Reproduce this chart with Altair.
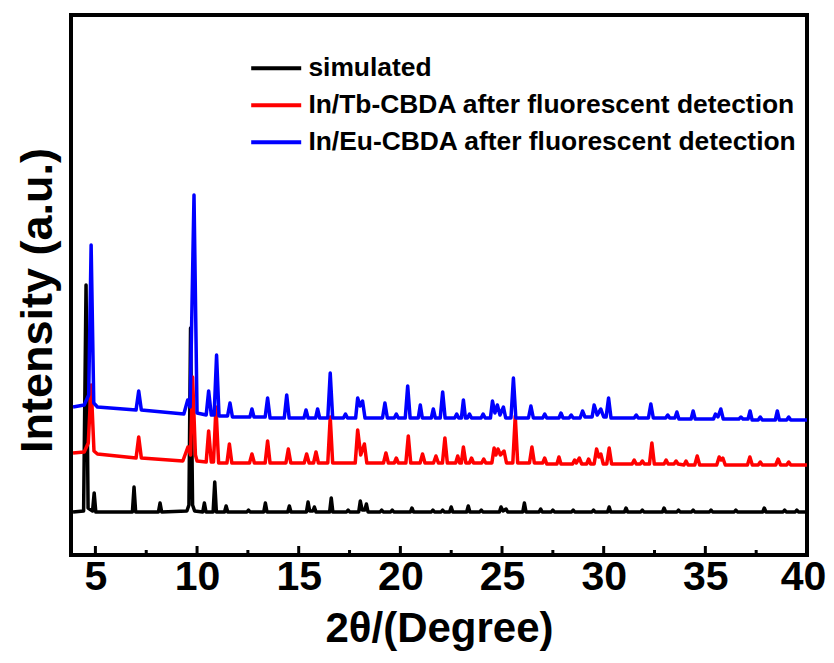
import altair as alt
import pandas as pd

# ---------------- data ----------------
SERIES = ["simulated",
          "In/Tb-CBDA after fluorescent detection",
          "In/Eu-CBDA after fluorescent detection"]
COLORS = ["#000000", "#ff0000", "#0000ff"]

# 2theta (deg), intensity (a.u., offset already included)
sim_pts = [
    (3.9, 43), (4.42, 44), (4.54, 270), (4.64, 47), (4.86, 44), (4.94, 62), (5.02, 43),
    (6.82, 43), (6.9, 68), (6.98, 43), (8.1, 43), (8.18, 52), (8.26, 43),
    (9.5, 44), (9.6, 50), (9.68, 227), (9.78, 50), (9.88, 44),
    (10.28, 43), (10.36, 52), (10.44, 43), (10.79, 43), (10.87, 73), (10.95, 43),
    (11.35, 43), (11.43, 49), (11.51, 43), (12.45, 43), (12.53, 45), (12.61, 43),
    (13.28, 43), (13.36, 52), (13.44, 43), (14.46, 43), (14.54, 49), (14.62, 43),
    (15.38, 43), (15.46, 53), (15.54, 44), (15.7, 44), (15.77, 48), (15.85, 43),
    (16.52, 43), (16.6, 57), (16.68, 43), (17.35, 43), (17.43, 45), (17.51, 43),
    (17.95, 43), (18.03, 54), (18.12, 45), (18.25, 45), (18.33, 51), (18.41, 43),
    (19.0, 43), (19.08, 45), (19.16, 43), (19.52, 43), (19.6, 45), (19.68, 43),
    (20.49, 43), (20.57, 47), (20.65, 43), (21.52, 43), (21.6, 45), (21.68, 43),
    (22.0, 43), (22.08, 45), (22.16, 43), (22.42, 43), (22.5, 48), (22.58, 43),
    (23.26, 43), (23.34, 49), (23.42, 43), (23.9, 43), (23.98, 45), (24.06, 43),
    (24.87, 43), (24.95, 48), (25.05, 44), (25.2, 46), (25.28, 43),
    (26.02, 43), (26.1, 52), (26.18, 43), (26.82, 43), (26.9, 46), (26.98, 43),
    (27.42, 43), (27.5, 45), (27.58, 43), (28.42, 43), (28.5, 45), (28.58, 43),
    (29.42, 43), (29.5, 45), (29.58, 43), (30.19, 43), (30.27, 48), (30.35, 43),
    (31.02, 43), (31.1, 47), (31.18, 43), (31.82, 43), (31.9, 45), (31.98, 43),
    (32.89, 43), (32.97, 47), (33.05, 43), (33.6, 43), (33.68, 45), (33.76, 43),
    (34.32, 43), (34.4, 45), (34.48, 43), (35.2, 43), (35.28, 45), (35.36, 43),
    (36.42, 43), (36.5, 45), (36.58, 43), (37.82, 43), (37.9, 47), (37.98, 43),
    (38.82, 43), (38.9, 45), (38.98, 43), (39.42, 43), (39.5, 45), (39.58, 43),
    (40.0, 43),
]

tb_pts = [
    (3.9, 102), (4.45, 103), (4.65, 112), (4.79, 170), (4.93, 104), (5.1, 101),
    (7.0, 97), (7.13, 118), (7.26, 97), (9.3, 94), (9.55, 108), (9.68, 100),
    (9.78, 178), (9.92, 100), (10.0, 94), (10.45, 93), (10.57, 124), (10.7, 93),
    (10.81, 93), (10.93, 148), (11.06, 92), (11.47, 92), (11.59, 111), (11.71, 92),
    (12.58, 92), (12.7, 101), (12.82, 92), (13.35, 92), (13.47, 114), (13.59, 92),
    (14.37, 92), (14.49, 106), (14.61, 92), (15.27, 92), (15.39, 101), (15.51, 92),
    (15.73, 92), (15.85, 103), (15.97, 92), (16.43, 92), (16.55, 138), (16.67, 92),
    (17.66, 92), (17.78, 92), (17.9, 125), (18.05, 100), (18.23, 111), (18.35, 92),
    (19.17, 92), (19.29, 102), (19.41, 92), (19.7, 92), (19.8, 97), (19.9, 92),
    (20.27, 92), (20.39, 119), (20.51, 92), (20.97, 92), (21.09, 101), (21.21, 92),
    (21.63, 92), (21.75, 99), (21.87, 92), (22.07, 92), (22.19, 117), (22.31, 92),
    (22.72, 92), (22.82, 99), (22.92, 92), (23.0, 92), (23.1, 108), (23.22, 92),
    (23.4, 92), (23.5, 97), (23.6, 92), (24.0, 92), (24.1, 96), (24.2, 92),
    (24.5, 92), (24.61, 107), (24.7, 100), (24.8, 106), (24.92, 100), (25.1, 104),
    (25.22, 92), (25.53, 92), (25.65, 139), (25.77, 92), (26.35, 92), (26.47, 108),
    (26.59, 92), (27.0, 92), (27.1, 97), (27.2, 91), (27.7, 91), (27.8, 98),
    (27.9, 91), (28.47, 91), (28.57, 95), (28.66, 92), (28.8, 97), (28.92, 91),
    (29.16, 91), (29.26, 96), (29.36, 91), (29.53, 91), (29.65, 106), (29.76, 98),
    (29.86, 101), (29.98, 91), (30.15, 91), (30.27, 107), (30.39, 91),
    (31.4, 91), (31.5, 95), (31.6, 91), (31.8, 91), (31.9, 94), (32.0, 91),
    (32.25, 91), (32.37, 112), (32.49, 91), (32.97, 91), (33.07, 95), (33.17, 91),
    (33.46, 91), (33.56, 94), (33.66, 91), (33.95, 90), (34.05, 94), (34.15, 90),
    (34.48, 90), (34.6, 99), (34.72, 90), (35.56, 90), (35.68, 98), (35.78, 95),
    (35.86, 97), (35.98, 90), (37.07, 90), (37.19, 98), (37.31, 90),
    (37.6, 90), (37.7, 93), (37.8, 90), (38.46, 90), (38.58, 96), (38.7, 90),
    (39.0, 90), (39.1, 93), (39.2, 90), (40.0, 90),
]

eu_pts = [
    (3.9, 148), (4.45, 150), (4.67, 160), (4.79, 310), (4.92, 152), (5.1, 148),
    (7.0, 145), (7.13, 164), (7.26, 145), (9.35, 141), (9.54, 155), (9.66, 148),
    (9.85, 360), (10.0, 142), (10.45, 140), (10.57, 164), (10.7, 140), (10.84, 140),
    (10.96, 200), (11.08, 139), (11.5, 139), (11.62, 152), (11.74, 138),
    (12.6, 138), (12.7, 146), (12.8, 138), (13.35, 138), (13.47, 157), (13.59, 137),
    (14.29, 137), (14.41, 160), (14.53, 137), (15.26, 137), (15.36, 145), (15.46, 137),
    (15.83, 137), (15.93, 146), (16.03, 137), (16.43, 137), (16.55, 182), (16.67, 137),
    (17.2, 137), (17.3, 141), (17.4, 137), (17.8, 137), (17.9, 157), (18.02, 149),
    (18.14, 154), (18.26, 137), (19.12, 137), (19.24, 152), (19.36, 137),
    (19.7, 137), (19.8, 141), (19.9, 137), (20.24, 137), (20.36, 169), (20.48, 137),
    (20.88, 137), (20.98, 150), (21.08, 137), (21.52, 137), (21.62, 146), (21.72, 137),
    (21.96, 137), (22.08, 163), (22.2, 137), (22.67, 137), (22.77, 141), (22.87, 137),
    (23.0, 137), (23.1, 155), (23.2, 137), (23.3, 137), (23.4, 141), (23.5, 137),
    (23.97, 137), (24.07, 141), (24.17, 137), (24.43, 137), (24.53, 154), (24.65, 142),
    (24.77, 150), (24.9, 140), (25.07, 148), (25.18, 137), (25.44, 137), (25.56, 177),
    (25.68, 137), (26.3, 137), (26.42, 149), (26.54, 137), (27.0, 137), (27.1, 141),
    (27.2, 137), (27.8, 137), (27.9, 142), (28.0, 137), (28.3, 137), (28.4, 140),
    (28.5, 137), (28.84, 137), (28.96, 144), (29.08, 138), (29.43, 138), (29.53, 150),
    (29.68, 140), (29.86, 146), (30.0, 138), (30.12, 138), (30.24, 157), (30.36, 137),
    (31.5, 137), (31.6, 140), (31.7, 137), (32.2, 137), (32.32, 151), (32.44, 137),
    (33.05, 137), (33.15, 140), (33.25, 137), (33.5, 137), (33.6, 143), (33.7, 136),
    (34.3, 136), (34.4, 144), (34.5, 136), (35.4, 136), (35.5, 141), (35.62, 138),
    (35.76, 146), (35.88, 136), (36.65, 136), (36.75, 138), (36.85, 136),
    (37.1, 136), (37.2, 144), (37.3, 135), (37.6, 135), (37.7, 138), (37.8, 135),
    (38.44, 135), (38.54, 144), (38.64, 135), (39.0, 135), (39.1, 138), (39.2, 135),
    (40.0, 135),
]

major_ticks = [5, 10, 15, 20, 25, 30, 35, 40]
minor_ticks = [7.5, 12.5, 17.5, 22.5, 27.5, 32.5, 37.5]

X_DOMAIN = [3.8, 40]
Y_DOMAIN = [0, 540]

# ---------------- chart ----------------
FONT = "Liberation Sans, Arial, Helvetica, sans-serif"

W, H = 736, 540

def frame(pts, name):
    return pd.DataFrame({"x": [p[0] for p in pts],
                         "y": [p[1] for p in pts],
                         "series": name})

xscale = alt.Scale(domain=X_DOMAIN, nice=False, zero=False)
yscale = alt.Scale(domain=Y_DOMAIN, nice=False, zero=False)

X = alt.X("x:Q", scale=xscale,
          axis=alt.Axis(title="2θ/(Degree)", values=major_ticks, format="d",
                        domain=False, ticks=False, tickSize=0, grid=False,
                        labelFont=FONT, labelFontSize=41, labelFontWeight="bold",
                        labelColor="black", labelBaseline="alphabetic",
                        labelPadding=34, labelFlush=False, labelOverlap=False,
                        labelOffset=alt.condition("datum.value == 40",
                                                  alt.value(-4), alt.value(0)),
                        titleFont=FONT, titleFontSize=42, titleFontWeight="bold",
                        titleColor="black", titleBaseline="alphabetic",
                        titleX=W / 2, titleY=86, titleAlign="center"))
Y = alt.Y("y:Q", scale=yscale,
          axis=alt.Axis(title="Intensity (a.u.)", labels=False, ticks=False,
                        domain=False, grid=False,
                        titleFont=FONT, titleFontSize=45, titleFontWeight="bold",
                        titleColor="black", titleBaseline="alphabetic",
                        titleAngle=270, titleX=-20, titleY=285, titleAlign="center"))

color = alt.Color("series:N",
                  scale=alt.Scale(domain=SERIES, range=COLORS),
                  legend=alt.Legend(orient="none", legendX=192, legendY=40,
                                    title=None, labelFont=FONT, labelFontSize=26.4,
                                    labelFontWeight="bold", labelColor="black",
                                    symbolType="M-2.5,0H2.5", symbolSize=400,
                                    symbolStrokeWidth=4, labelOffset=19,
                                    rowPadding=10, labelLimit=700))

tick_major = alt.Chart(pd.DataFrame({"x": major_ticks})).mark_rule(
    color="black", strokeWidth=3).encode(x=X, y=alt.value(H), y2=alt.value(H - 9))
tick_minor = alt.Chart(pd.DataFrame({"x": minor_ticks})).mark_rule(
    color="black", strokeWidth=3).encode(x=X, y=alt.value(H), y2=alt.value(H - 5))

def line(pts, name):
    return alt.Chart(frame(pts, name)).mark_line(
        strokeWidth=3.5, strokeJoin="round", clip=True).encode(x=X, y=Y, color=color)

chart = alt.layer(
    tick_major, tick_minor,
    line(sim_pts, SERIES[0]),
    line(tb_pts, SERIES[1]),
    line(eu_pts, SERIES[2]),
).properties(
    width=W, height=H,
    background="white",
    autosize=alt.AutoSizeParams(type="none"),
    padding={"left": 63, "top": 7, "right": 19, "bottom": 97},
).configure_view(stroke="black", strokeWidth=4)

chart.save("out.html", embed_options={"renderer": "svg", "actions": False})
